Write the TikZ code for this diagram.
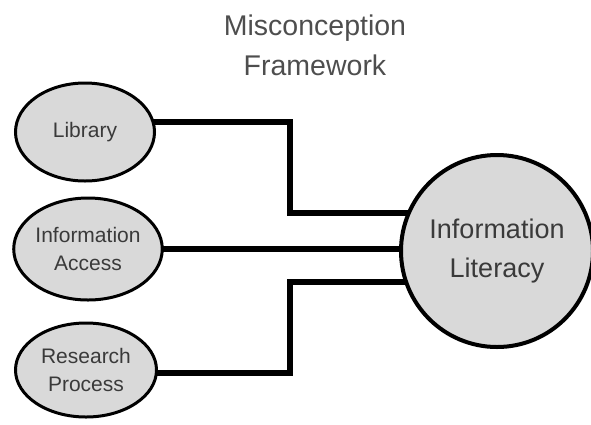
\documentclass[tikz,border=0pt]{standalone}
\usepackage{fontspec}
\setmainfont{Liberation Sans}
\usetikzlibrary{shapes.geometric,backgrounds}
\definecolor{nodefill}{HTML}{D9D9D9}
\definecolor{txt}{HTML}{3A3A3A}
\tikzset{
  small/.style={ellipse, draw=black, line width=3pt, fill=nodefill, inner sep=0pt,
    text=txt, align=center, font=\fontsize{21}{28}\selectfont},
  big/.style={circle, draw=black, line width=4pt, fill=nodefill, inner sep=0pt,
    minimum size=192pt, text=txt, align=center, font=\fontsize{27}{39}\selectfont},
  conn/.style={line width=6pt, draw=black, line join=miter},
  title/.style={text=txt!90, align=center, font=\fontsize{28.5}{40}\selectfont}
}
\begin{document}
\begin{tikzpicture}[x=1pt,y=-1pt]
\useasboundingbox (0,0) rectangle (591,424);
\node[title] (t) at (315,45) {Misconception\\Framework};
\node[small, minimum width=139pt, minimum height=98pt] (lib) at (85,132) {Library};
\node[small, minimum width=145pt, minimum height=102pt] (ia) at (88,249) {Information\\Access};
\node[small, minimum width=141pt, minimum height=94pt] (rp) at (86,370) {Research\\Process};
\node[big] (il) at (497,251) {Information\\Literacy};
\coordinate (j1) at (290,122);
\coordinate (j2) at (290,213);
\coordinate (j3) at (290,373);
\coordinate (j4) at (290,282);
\begin{pgfonlayer}{background}
  \draw[conn] (lib.center |- j1) -- (j1) -- (j2) -- (il.center |- j2);
  \draw[conn] (ia.center) -- (ia.center -| il.center);
  \draw[conn] (rp.center |- j3) -- (j3) -- (j4) -- (il.center |- j4);
\end{pgfonlayer}
\end{tikzpicture}
\end{document}
